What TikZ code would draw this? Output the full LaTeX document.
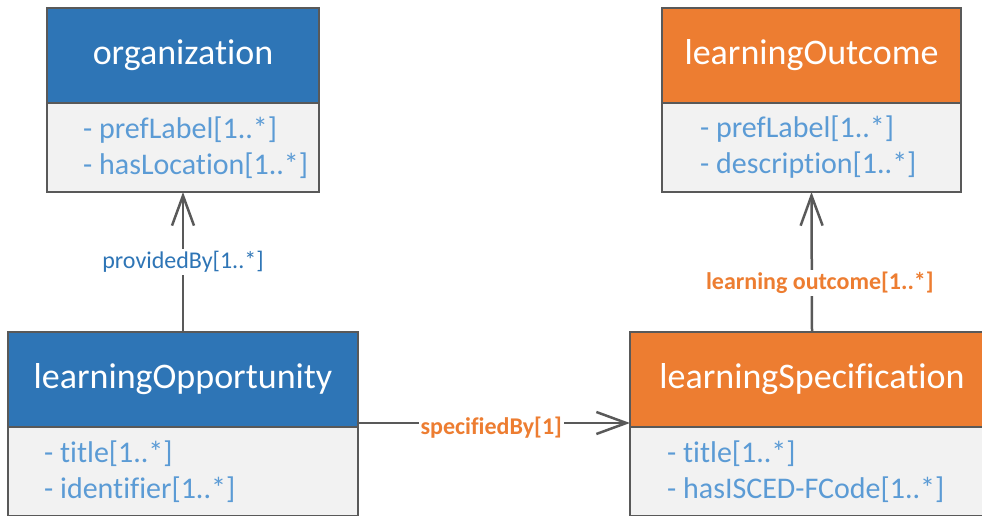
\documentclass[tikz,border=0pt]{standalone}
\usepackage{fontspec}
\setmainfont{Carlito}[Ligatures={NoCommon}]
\usetikzlibrary{positioning,arrows.meta}
\definecolor{hdrblue}{HTML}{2E75B6}
\definecolor{hdrorange}{HTML}{ED7D31}
\definecolor{attrbg}{HTML}{F2F2F2}
\definecolor{attrtext}{HTML}{5B9BD5}
\definecolor{edgegray}{HTML}{595959}
\tikzset{
  head/.style={draw=edgegray, line width=2pt, text=white, minimum height=95pt,
    inner sep=0pt, outer sep=0pt, font=\fontsize{36}{40}\selectfont},
  attrbox/.style={draw=edgegray, line width=2pt, fill=attrbg, minimum height=89pt,
    inner sep=0pt, outer sep=0pt},
  attrlist/.style={text=attrtext, align=left, inner sep=0pt,
    font=\fontsize{30}{36}\selectfont},
  assoc/.style={draw=edgegray, line width=2.5pt, -{Straight Barb[length=30pt,width=22pt]}},
  lbl/.style={fill=white, inner sep=2pt, font=\fontsize{24}{26}\selectfont}
}
\begin{document}
\begin{tikzpicture}[x=1pt,y=-1pt]
\useasboundingbox (0,0) rectangle (982,516);

\node[head, fill=hdrblue, minimum width=272pt] (org) at (183,55.5) {organization};
\node[attrbox, minimum width=272pt, below=0pt of org] (orgattr) {};
\node[attrlist, right=36pt of orgattr.west] (orgattrtxt) {- prefLabel[1..*]\\- hasLocation[1..*]};

\node[head, fill=hdrorange, minimum width=299pt] (outc) at (811.5,55.5) {learningOutcome};
\node[attrbox, minimum width=299pt, below=0pt of outc] (outcattr) {};
\node[attrlist, right=38pt of outcattr.west] (outcattrtxt) {- prefLabel[1..*]\\- description[1..*]};

\node[head, fill=hdrblue, minimum width=350pt] (opp) at (183,379.5) {learningOpportunity};
\node[attrbox, minimum width=350pt, below=0pt of opp] (oppattr) {};
\node[attrlist, right=36pt of oppattr.west] (oppattrtxt) {- title[1..*]\\- identifier[1..*]};

\node[head, fill=hdrorange, minimum width=364pt] (spec) at (812,379.5) {learningSpecification};
\node[attrbox, minimum width=364pt, below=0pt of spec] (specattr) {};
\node[attrlist, right=37pt of specattr.west] (specattrtxt) {- title[1..*]\\- hasISCED-FCode[1..*]};

\draw[assoc] (opp.north) -- (orgattr.south)
  node[lbl, text=hdrblue, midway] (provlbl) {providedBy[1..*]};
\draw[assoc] (spec.north) -- (outcattr.south)
  node[lbl, text=hdrorange, pos=0.35, xshift=8pt, font=\fontsize{24}{26}\selectfont\bfseries] (outclbl) {learning outcome[1..*]};
\draw[assoc] ([yshift=4pt]opp.south east) -- ([yshift=4pt]spec.south west)
  node[lbl, text=hdrorange, pos=0.49, yshift=-5pt, font=\fontsize{24}{26}\selectfont\bfseries] (speclbl) {specifiedBy[1]};
\end{tikzpicture}
\end{document}
